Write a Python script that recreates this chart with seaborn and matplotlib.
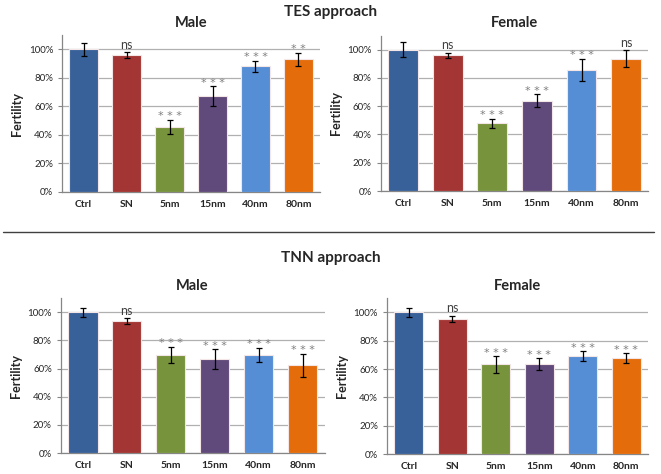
import numpy as np
import pandas as pd
import matplotlib
matplotlib.use("Agg")
import matplotlib.pyplot as plt
import seaborn as sns
from matplotlib.ticker import PercentFormatter

categories = ["Ctrl", "SN", "5nm", "15nm", "40nm", "80nm"]
colors = ["#38619A", "#A33634", "#77933C", "#604A7B", "#558ED5", "#E46C0A"]

# TES approach
tes_male = [1.00, 0.96, 0.455, 0.67, 0.88, 0.93]
tes_male_err = [0.045, 0.02, 0.05, 0.07, 0.04, 0.045]
tes_male_sig = ["", "ns", "***", "***", "***", "**"]

tes_female = [1.00, 0.96, 0.48, 0.64, 0.855, 0.935]
tes_female_err = [0.053, 0.02, 0.032, 0.044, 0.08, 0.06]
tes_female_sig = ["", "ns", "***", "***", "***", "ns"]

# TNN approach
tnn_male = [1.00, 0.938, 0.697, 0.666, 0.697, 0.623]
tnn_male_err = [0.033, 0.02, 0.058, 0.07, 0.05, 0.08]
tnn_male_sig = ["", "ns", "***", "***", "***", "***"]

tnn_female = [1.00, 0.955, 0.632, 0.636, 0.693, 0.677]
tnn_female_err = [0.033, 0.02, 0.059, 0.04, 0.033, 0.035]
tnn_female_sig = ["", "ns", "***", "***", "***", "***"]

sns.set_style("white")
plt.rcParams['font.family'] = ['Lato', 'DejaVu Sans']

fig = plt.figure(figsize=(6.61, 4.74), dpi=100)

panels = [
    ("Male", tes_male, tes_male_err, tes_male_sig, [0.094, 0.595, 0.390, 0.331]),
    ("Female", tes_female, tes_female_err, tes_female_sig, [0.576, 0.597, 0.405, 0.328]),
    ("Male", tnn_male, tnn_male_err, tnn_male_sig, [0.092, 0.044, 0.399, 0.327]),
    ("Female", tnn_female, tnn_female_err, tnn_female_sig, [0.5855, 0.042, 0.395, 0.329]),
]

for title, vals, errs, sig, pos in panels:
    ax = fig.add_axes(pos)
    df = pd.DataFrame({"group": categories, "fertility": vals})
    sns.barplot(data=df, x="group", y="fertility", hue="group", palette=colors,
                order=categories, hue_order=categories, legend=False,
                width=0.67, saturation=1, edgecolor="#F4E6E6", linewidth=0.8,
                ax=ax, errorbar=None, zorder=3)
    ax.errorbar(np.arange(len(categories)), vals, yerr=errs, fmt="none",
                ecolor="black", elinewidth=0.9, capsize=2.2, capthick=0.9, zorder=4)
    for i, s in enumerate(sig):
        if not s:
            continue
        top = vals[i] + errs[i]
        if s == "ns":
            ax.text(i, top + 0.01, s, ha="center", va="bottom",
                    fontsize=9, color="#404040")
        else:
            ax.text(i, top - 0.01, " ".join(s), ha="center", va="bottom",
                    fontsize=8, color="#7F7F7F", family="DejaVu Sans")
    ax.set_ylim(0, 1.1)
    ax.set_xlim(-0.5, 5.5)
    ax.set_yticks(np.arange(0, 1.01, 0.2))
    ax.yaxis.set_major_formatter(PercentFormatter(1.0, decimals=0))
    ax.grid(axis="y", color="#B0B0B0", linewidth=0.9, zorder=0)
    ax.set_axisbelow(True)
    for sp in ["top", "right"]:
        ax.spines[sp].set_visible(False)
    for sp in ["left", "bottom"]:
        ax.spines[sp].set_color("#868686")
        ax.spines[sp].set_linewidth(0.9)
    ax.set_xticks(np.arange(-0.5, 6, 1), minor=True)
    ax.tick_params(axis="x", which="major", length=0, labelsize=7.5, pad=6)
    ax.tick_params(axis="x", which="minor", length=3, color="#868686", direction="out")
    ax.tick_params(axis="y", length=3, color="#868686", direction="out",
                   left=True, labelsize=7, labelcolor="#262626")
    for lab in ax.get_xticklabels():
        lab.set_fontweight("bold")
        lab.set_color("#262626")
    ax.set_xlabel("")
    ax.set_ylabel("Fertility", fontsize=9, fontweight="bold", labelpad=4)
    ax.set_title(title, fontsize=10.5, fontweight="bold", pad=6)

fig.text(0.5, 0.975, "TES approach", ha="center", va="center",
         fontsize=11, fontweight="bold")
fig.text(0.5, 0.456, "TNN approach", ha="center", va="center",
         fontsize=11, fontweight="bold")
fig.add_artist(plt.Line2D([0.005, 0.99], [0.511, 0.511], color="#404040",
                          linewidth=1.0, transform=fig.transFigure))

fig.savefig("out.png", dpi=100)
